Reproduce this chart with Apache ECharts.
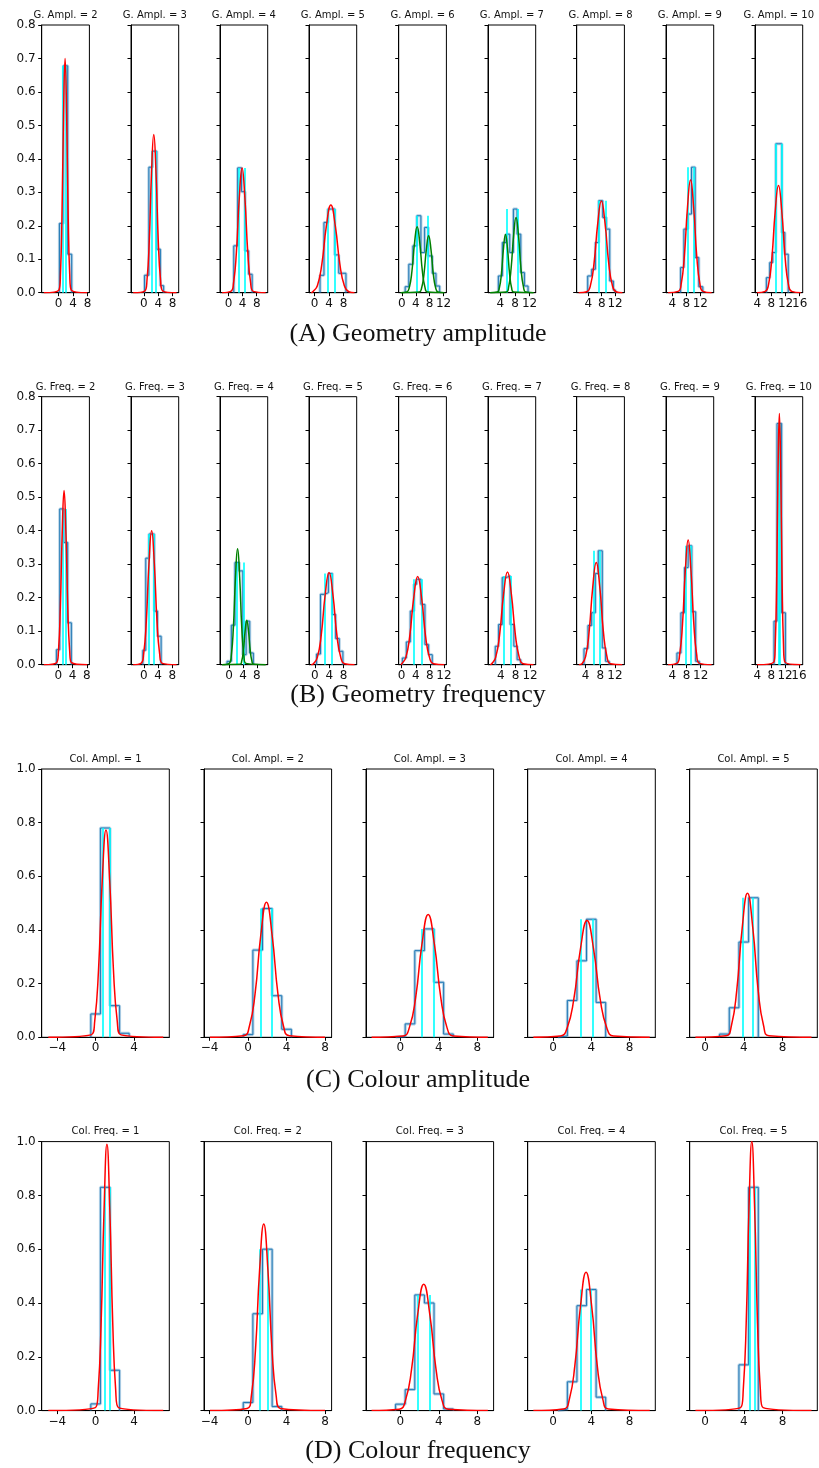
<!DOCTYPE html>
<html>
<head>
<meta charset="utf-8">
<script src="https://cdn.jsdelivr.net/npm/echarts@6/dist/echarts.min.js"></script>
<style>
  html, body { margin: 0; padding: 0; background: #fff; }
  #main { width: 819px; height: 1468px; }
</style>
</head>
<body>
<div id="main"></div>
<script>
// ---------- data ----------
const captions = ["(A) Geometry amplitude", "(B) Geometry frequency", "(C) Colour amplitude", "(D) Colour frequency"];

const titlesA = ["G. Ampl. = 2", "G. Ampl. = 3", "G. Ampl. = 4", "G. Ampl. = 5", "G. Ampl. = 6", "G. Ampl. = 7", "G. Ampl. = 8", "G. Ampl. = 9", "G. Ampl. = 10"];
const titlesB = ["G. Freq. = 2", "G. Freq. = 3", "G. Freq. = 4", "G. Freq. = 5", "G. Freq. = 6", "G. Freq. = 7", "G. Freq. = 8", "G. Freq. = 9", "G. Freq. = 10"];
const titlesC = ["Col. Ampl. = 1", "Col. Ampl. = 2", "Col. Ampl. = 3", "Col. Ampl. = 4", "Col. Ampl. = 5"];
const titlesD = ["Col. Freq. = 1", "Col. Freq. = 2", "Col. Freq. = 3", "Col. Freq. = 4", "Col. Freq. = 5"];

// x axis limits and tick labels
const xRangeA = [[-4.7, 8.5], [-3.6, 9.7], [-2.4, 11.1], [-1.5, 11.6], [-0.9, 12.8], [0.6, 13.7], [0.5, 14.8], [2.2, 15.8], [3.35, 16.85]];
const xRangeB = [[-4.7, 8.7], [-3.6, 9.8], [-2.6, 11.1], [-1.65, 11.65], [-0.85, 12.7], [0.45, 13.55], [1.55, 14.6], [2.2, 15.7], [3.3, 17.1]];
const xRangeC = [[-5.63, 7.69], [-4.58, 8.68], [-3.58, 9.7], [-2.64, 10.68], [-1.59, 11.6]];
const xRangeD = [[-5.63, 7.69], [-4.58, 8.68], [-3.58, 9.7], [-2.64, 10.68], [-1.59, 11.6]];

const xTicksA = [[0, 4, 8], [0, 4, 8], [0, 4, 8], [0, 4, 8], [0, 4, 8, 12], [4, 8, 12], [4, 8, 12], [4, 8, 12], [4, 8, 12, 16]];
const xTicksB = [[0, 4, 8], [0, 4, 8], [0, 4, 8], [0, 4, 8], [0, 4, 8, 12], [4, 8, 12], [4, 8, 12], [4, 8, 12], [4, 8, 12, 16]];
const xTicksC = [[-4, 0, 4], [-4, 0, 4, 8], [0, 4, 8], [0, 4, 8], [0, 4, 8]];
const xTicksD = [[-4, 0, 4], [-4, 0, 4, 8], [0, 4, 8], [0, 4, 8], [0, 4, 8]];

// histogram bin edges and densities
const binEdgesA = [
  [0.2, 1.3, 2.5, 3.6],
  [0.18, 1.38, 2.39, 3.58, 4.59, 5.5],
  [1.5, 2.6, 3.7, 4.7, 5.7, 6.7],
  [1.53, 2.61, 3.69, 4.68, 5.59, 6.67, 7.66, 8.65],
  [0.96, 2.0, 3.17, 4.33, 5.48, 6.54, 7.6, 8.75, 9.8, 10.87],
  [3.45, 4.55, 5.56, 6.57, 7.58, 8.59, 9.6, 10.6, 11.6],
  [3.8, 5.0, 6.1, 7.1, 8.3, 9.4, 10.4, 11.5, 12.1],
  [6.36, 7.3, 8.43, 9.47, 10.5, 11.55, 12.7],
  [6.57, 7.52, 8.38, 9.24, 10.1, 10.95, 11.8, 12.76]
];
const densityA = [
  [0.207, 0.678, 0.115],
  [0.052, 0.375, 0.423, 0.13, 0.021],
  [0.14, 0.373, 0.302, 0.125, 0.055],
  [0.052, 0.21, 0.25, 0.25, 0.113, 0.058, 0.058],
  [0.018, 0.085, 0.14, 0.23, 0.12, 0.195, 0.11, 0.058, 0.02],
  [0.05, 0.15, 0.175, 0.12, 0.25, 0.175, 0.06, 0.02],
  [0.05, 0.07, 0.15, 0.275, 0.225, 0.19, 0.035, 0.008],
  [0.075, 0.19, 0.235, 0.375, 0.105, 0.018],
  [0.045, 0.09, 0.12, 0.445, 0.445, 0.18, 0.115]
];
const binEdgesB = [
  [-0.56, 0.37, 1.5, 2.6, 3.63],
  [-0.28, 0.55, 1.47, 2.94, 3.85, 4.86],
  [-0.57, 0.66, 1.7, 2.92, 3.96, 4.9, 5.94, 6.98],
  [0.46, 1.56, 2.66, 3.76, 4.86, 5.78, 6.79, 7.8],
  [0.19, 1.32, 2.45, 3.49, 4.25, 5.47, 6.6, 7.64, 8.68],
  [2.45, 3.36, 4.36, 5.45, 6.55, 7.55, 8.45, 9.45],
  [3.55, 4.64, 5.64, 6.64, 7.45, 8.55, 9.45, 10.45],
  [5.3, 6.42, 7.44, 8.47, 9.49, 10.6, 11.63],
  [8.8, 9.67, 11.0, 12.1]
];
const densityB = [
  [0.045, 0.465, 0.365, 0.125],
  [0.043, 0.318, 0.39, 0.16, 0.085],
  [0.01, 0.118, 0.305, 0.28, 0.03, 0.13, 0.035],
  [0.032, 0.21, 0.215, 0.272, 0.15, 0.078, 0.04],
  [0.02, 0.068, 0.16, 0.24, 0.255, 0.18, 0.06, 0.03],
  [0.055, 0.12, 0.26, 0.265, 0.12, 0.055, 0.015],
  [0.048, 0.117, 0.155, 0.272, 0.34, 0.05, 0.01],
  [0.035, 0.155, 0.29, 0.355, 0.158, 0.01],
  [0.13, 0.72, 0.155]
];
const binEdgesC = [
  [-0.5, 0.5, 1.5, 2.5, 3.5],
  [-0.5, 0.5, 1.5, 2.5, 3.5, 4.5],
  [-0.5, 0.5, 1.5, 2.5, 3.5, 4.5, 5.5],
  [0.5, 1.5, 2.5, 3.5, 4.5, 5.5],
  [1.5, 2.5, 3.5, 4.5, 5.5]
];
const densityC = [
  [0.087, 0.78, 0.118, 0.015],
  [0.01, 0.325, 0.48, 0.155, 0.03],
  [0.003, 0.05, 0.323, 0.404, 0.205, 0.012],
  [0.005, 0.137, 0.285, 0.44, 0.13],
  [0.012, 0.11, 0.355, 0.52]
];
const binEdgesD = [
  [-0.5, 0.5, 1.5, 2.5],
  [-0.5, 0.5, 1.5, 2.5, 3.5],
  [-0.5, 0.5, 1.5, 2.5, 3.5, 4.5, 5.5],
  [0.5, 1.5, 2.5, 3.5, 4.5, 5.5],
  [3.5, 4.5, 5.5]
];
const densityD = [
  [0.025, 0.83, 0.15],
  [0.03, 0.36, 0.6, 0.015],
  [0.024, 0.078, 0.43, 0.40, 0.062, 0.006],
  [0.005, 0.107, 0.39, 0.45, 0.05],
  [0.17, 0.83]
];

// cyan marker positions
const markersA = [[1.1, 2.0], [2.2, 3.4], [2.9, 4.7], [3.69, 5.59], [4.4, 7.3], [5.65, 8.77], [7.0, 9.1], [8.3, 10.0], [9.24, 10.9]];
const markersB = [[1.1, 2.14], [1.38, 2.84], [2.26, 4.25], [2.84, 4.77], [3.4, 5.66], [4.9, 6.8], [6.1, 7.8], [7.72, 9.3], [10.05, 10.6]];
const markersC = [[0.7, 1.46], [1.35, 2.47], [2.26, 3.44], [2.92, 4.14], [3.9, 4.9]];
const markersD = [[0.9, 1.43], [1.22, 2.0], [1.84, 3.06], [2.85, 3.93], [4.59, 5.1]];

// fitted curves: extent along the baseline, then points
const fitSpanA = [[-4.1, 7.9], [-3.0, 9.1], [-1.8, 10.5], [-0.9, 11.0], [-0.3, 12.2], [1.2, 13.1], [1.1, 14.2], [2.8, 15.2], [3.9, 16.3]];
const fitSpanB = [[-4.1, 8.1], [-3.0, 9.2], [-2.0, 10.5], [-1.05, 11.05], [-0.25, 12.1], [1.05, 12.95], [2.15, 14.0], [2.8, 15.1], [3.9, 16.5]];
const fitSpanC = [[-4.94, 7.06], [-3.96, 8.0], [-3.0, 9.1], [-2.05, 10.1], [-1.0, 11.0]];
const fitSpanD = [[-4.94, 7.06], [-3.96, 8.0], [-3.0, 9.1], [-2.05, 10.1], [-1.0, 11.0]];

const fitA = [
  [[[0.06, 0.008], [0.49, 0.056], [0.91, 0.227], [1.34, 0.528], [1.77, 0.70], [2.20, 0.528], [2.63, 0.227], [3.05, 0.056], [3.48, 0.008]]],
  [[[0.23, 0.005], [0.86, 0.038], [1.49, 0.154], [2.12, 0.357], [2.75, 0.473], [3.38, 0.357], [4.01, 0.154], [4.64, 0.038], [5.27, 0.005]]],
  [[[0.64, 0.004], [1.44, 0.030], [2.24, 0.121], [3.05, 0.282], [3.85, 0.373], [4.65, 0.282], [5.46, 0.121], [6.26, 0.030], [7.06, 0.004]]],
  [[[-0.45, 0.003], [0.79, 0.021], [2.02, 0.085], [3.26, 0.198], [4.5, 0.262], [5.74, 0.198], [6.98, 0.085], [8.21, 0.021], [9.45, 0.003]]],
  [
    [[1.4, 0.002], [2.15, 0.016], [2.9, 0.064], [3.65, 0.149], [4.4, 0.197], [5.15, 0.149], [5.9, 0.064], [6.65, 0.016], [7.4, 0.002]],
    [[5.0, 0.002], [5.68, 0.014], [6.35, 0.055], [7.03, 0.128], [7.7, 0.17], [8.38, 0.128], [9.05, 0.055], [9.73, 0.014], [10.4, 0.002]]
  ],
  [
    [[3.15, 0.002], [3.71, 0.014], [4.28, 0.056], [4.84, 0.131], [5.4, 0.174], [5.96, 0.131], [6.53, 0.056], [7.09, 0.014], [7.65, 0.002]],
    [[5.6, 0.002], [6.28, 0.018], [6.95, 0.073], [7.63, 0.170], [8.3, 0.225], [8.98, 0.170], [9.65, 0.073], [10.33, 0.018], [11.0, 0.002]]
  ],
  [[[3.52, 0.003], [4.62, 0.022], [5.71, 0.089], [6.81, 0.207], [7.9, 0.274], [9.0, 0.207], [10.09, 0.089], [11.19, 0.022], [12.28, 0.003]]],
  [[[5.66, 0.004], [6.55, 0.027], [7.43, 0.109], [8.32, 0.254], [9.2, 0.337], [10.09, 0.254], [10.97, 0.109], [11.86, 0.027], [12.74, 0.004]]],
  [[[6.25, 0.004], [7.19, 0.025], [8.13, 0.104], [9.06, 0.242], [10.0, 0.32], [10.94, 0.242], [11.88, 0.104], [12.81, 0.025], [13.75, 0.004]]]
];
const fitB = [
  [[[-0.52, 0.006], [0.01, 0.041], [0.53, 0.169], [1.06, 0.392], [1.58, 0.52], [2.11, 0.392], [2.63, 0.169], [3.16, 0.041], [3.68, 0.006]]],
  [[[-0.8, 0.004], [-0.05, 0.032], [0.7, 0.130], [1.45, 0.302], [2.2, 0.40], [2.95, 0.302], [3.7, 0.130], [4.45, 0.032], [5.2, 0.004]]],
  [
    [[0.05, 0.004], [0.65, 0.028], [1.25, 0.112], [1.85, 0.261], [2.45, 0.346], [3.05, 0.261], [3.65, 0.112], [4.25, 0.028], [4.85, 0.004]],
    [[3.15, 0.001], [3.64, 0.011], [4.13, 0.043], [4.61, 0.100], [5.1, 0.133], [5.59, 0.100], [6.08, 0.043], [6.56, 0.011], [7.05, 0.001]]
  ],
  [[[-0.41, 0.003], [0.68, 0.022], [1.77, 0.089], [2.85, 0.208], [3.94, 0.275], [5.03, 0.208], [6.12, 0.089], [7.2, 0.022], [8.29, 0.003]]],
  [[[0.03, 0.003], [1.16, 0.021], [2.28, 0.085], [3.41, 0.199], [4.53, 0.263], [5.66, 0.199], [6.78, 0.085], [7.91, 0.021], [9.03, 0.003]]],
  [[[1.48, 0.003], [2.56, 0.022], [3.64, 0.090], [4.72, 0.209], [5.8, 0.277], [6.88, 0.209], [7.96, 0.090], [9.04, 0.022], [10.12, 0.003]]],
  [[[3.0, 0.003], [3.98, 0.024], [4.95, 0.099], [5.93, 0.230], [6.9, 0.305], [7.88, 0.230], [8.85, 0.099], [9.83, 0.024], [10.8, 0.003]]],
  [[[5.26, 0.004], [6.06, 0.030], [6.87, 0.121], [7.67, 0.281], [8.47, 0.372], [9.27, 0.281], [10.08, 0.121], [10.88, 0.030], [11.68, 0.004]]],
  [[[8.76, 0.008], [9.16, 0.060], [9.56, 0.244], [9.95, 0.566], [10.35, 0.75], [10.75, 0.566], [11.15, 0.244], [11.54, 0.060], [11.94, 0.008]]]
];
const fitC = [
  [[[-0.48, 0.009], [-0.09, 0.062], [0.30, 0.251], [0.69, 0.583], [1.08, 0.773], [1.47, 0.583], [1.86, 0.251], [2.25, 0.062], [2.64, 0.009]]],
  [[[-0.46, 0.006], [0.13, 0.040], [0.73, 0.163], [1.32, 0.380], [1.91, 0.503], [2.50, 0.380], [3.10, 0.163], [3.69, 0.040], [4.28, 0.006]]],
  [[[0.28, 0.005], [0.93, 0.036], [1.59, 0.149], [2.24, 0.346], [2.89, 0.458], [3.54, 0.346], [4.20, 0.149], [4.85, 0.036], [5.50, 0.005]]],
  [[[0.79, 0.005], [1.48, 0.035], [2.17, 0.141], [2.86, 0.328], [3.55, 0.435], [4.24, 0.328], [4.93, 0.141], [5.62, 0.035], [6.31, 0.005]]],
  [[[2.16, 0.006], [2.72, 0.043], [3.27, 0.174], [3.83, 0.405], [4.38, 0.537], [4.94, 0.405], [5.49, 0.174], [6.05, 0.043], [6.60, 0.006]]]
];
const fitD = [
  [[[-0.03, 0.011], [0.27, 0.079], [0.57, 0.321], [0.88, 0.747], [1.18, 0.99], [1.48, 0.747], [1.79, 0.321], [2.09, 0.079], [2.39, 0.011]]],
  [[[-0.10, 0.008], [0.34, 0.055], [0.77, 0.225], [1.20, 0.524], [1.63, 0.694], [2.06, 0.524], [2.49, 0.225], [2.92, 0.055], [3.36, 0.008]]],
  [[[-0.12, 0.005], [0.52, 0.037], [1.16, 0.153], [1.79, 0.355], [2.43, 0.47], [3.07, 0.355], [3.71, 0.153], [4.34, 0.037], [4.98, 0.005]]],
  [[[1.11, 0.006], [1.70, 0.041], [2.28, 0.167], [2.87, 0.388], [3.45, 0.514], [4.04, 0.388], [4.62, 0.167], [5.21, 0.041], [5.79, 0.006]]],
  [[[3.66, 0.011], [3.95, 0.080], [4.25, 0.325], [4.54, 0.755], [4.83, 1.0], [5.12, 0.755], [5.42, 0.325], [5.71, 0.080], [6.0, 0.011]]]
];

// ---------- layout ----------
const narrowLefts = [41.7, 131, 220, 309, 398.7, 488, 576.7, 666, 755];
const wideLefts = [41.7, 204, 366, 527.7, 689.7];

const rows = [
  { titles: titlesA, xRange: xRangeA, xTicks: xTicksA, edges: binEdgesA, dens: densityA, marks: markersA, span: fitSpanA, fits: fitA,
    top: 25, height: 267.7, lefts: narrowLefts, width: 47.7, yMax: 0.8, yStep: 0.1, titleY: 15, capY: 334 },
  { titles: titlesB, xRange: xRangeB, xTicks: xTicksB, edges: binEdgesB, dens: densityB, marks: markersB, span: fitSpanB, fits: fitB,
    top: 396.7, height: 268, lefts: narrowLefts, width: 47.7, yMax: 0.8, yStep: 0.1, titleY: 387.3, capY: 695 },
  { titles: titlesC, xRange: xRangeC, xTicks: xTicksC, edges: binEdgesC, dens: densityC, marks: markersC, span: fitSpanC, fits: fitC,
    top: 769, height: 268.3, lefts: wideLefts, width: 127.6, yMax: 1.0, yStep: 0.2, titleY: 759, capY: 1080 },
  { titles: titlesD, xRange: xRangeD, xTicks: xTicksD, edges: binEdgesD, dens: densityD, marks: markersD, span: fitSpanD, fits: fitD,
    top: 1141.6, height: 269, lefts: wideLefts, width: 127.6, yMax: 1.0, yStep: 0.2, titleY: 1131.7, capY: 1451 }
];

const FONT = "DejaVu Sans";
const grids = [], xAxes = [], yAxes = [], series = [], graphics = [];

function stepPath(edges, dens) {
  const pts = [[edges[0], 0]];
  for (let i = 0; i < dens.length; i++) {
    pts.push([edges[i], dens[i]]);
    pts.push([edges[i + 1], dens[i]]);
  }
  pts.push([edges[edges.length - 1], 0]);
  return pts;
}

// tick labels are split over two coincident bottom axes (alternating),
// so that touching labels such as "12" and "16" are both kept, as in the figure
function xAxisFor(k, range, ticks, withLine) {
  return {
    type: "value", gridIndex: k, position: "bottom", offset: 0, min: range[0], max: range[1],
    axisLine: { show: withLine, onZero: false, lineStyle: { color: "#000", width: 1 } },
    axisTick: { show: true, length: 3.5, customValues: ticks, lineStyle: { color: "#000" } },
    axisLabel: { show: true, customValues: ticks, margin: 5, color: "#111", fontSize: 12, fontFamily: FONT,
                 hideOverlap: false, formatter: v => String(v).replace("-", "\u2212") },
    splitLine: { show: false }
  };
}

rows.forEach((row, r) => {
  graphics.push({
    type: "text", x: 418, y: row.capY,
    style: { text: captions[r], font: "26px 'Liberation Serif', 'DejaVu Serif', serif", fill: "#111",
             textAlign: "center", textVerticalAlign: "middle" }
  });
  row.titles.forEach((t, i) => {
    const k = grids.length;
    const left = row.lefts[i];
    grids.push({
      left: left, top: row.top, width: row.width, height: row.height,
      show: true, borderColor: "#000", borderWidth: 1, containLabel: false, outerBoundsMode: "none"
    });
    graphics.push({
      type: "text", x: left + row.width / 2, y: row.titleY,
      style: { text: t, font: "10px '" + FONT + "'", fill: "#111", textAlign: "center", textVerticalAlign: "middle" }
    });
    const ticks = row.xTicks[i];
    const xi = xAxes.length;
    xAxes.push(xAxisFor(k, row.xRange[i], ticks.filter((_, j) => j % 2 === 0), true));
    xAxes.push(xAxisFor(k, row.xRange[i], ticks.filter((_, j) => j % 2 === 1), false));
    yAxes.push({
      type: "value", gridIndex: k, min: 0, max: row.yMax, interval: row.yStep,
      axisLine: { show: true, onZero: false, lineStyle: { color: "#000", width: 1 } },
      axisTick: { show: true, length: 3.5, lineStyle: { color: "#000" } },
      axisLabel: { show: i === 0, margin: 6, color: "#111", fontSize: 12, fontFamily: FONT,
                   formatter: v => v.toFixed(1) },
      splitLine: { show: false }
    });

    const hist = stepPath(row.edges[i], row.dens[i]);
    const top = Math.max.apply(null, row.dens[i]);
    series.push({
      type: "line", xAxisIndex: xi, yAxisIndex: k, data: hist, showSymbol: false, symbol: "none",
      lineStyle: { color: "rgba(31,119,180,0.35)", width: 3 }, silent: true, z: 2
    });
    series.push({
      type: "line", xAxisIndex: xi, yAxisIndex: k, data: hist, showSymbol: false, symbol: "none",
      lineStyle: { color: "#1f77b4", width: 1 }, silent: true, z: 3,
      markLine: {
        silent: true, symbol: "none", label: { show: false }, animation: false,
        lineStyle: { color: "#00ffff", width: 1.6, type: "solid" },
        data: row.marks[i].map(x => [{ coord: [x, 0] }, { coord: [x, top] }])
      }
    });
    const fits = row.fits[i];
    const colour = fits.length > 1 ? "#008000" : "#ff0000";
    fits.forEach(pts => {
      series.push({
        type: "line", xAxisIndex: xi, yAxisIndex: k, smooth: 0.5, showSymbol: false, symbol: "none",
        data: [[row.span[i][0], 0]].concat(pts, [[row.span[i][1], 0]]),
        lineStyle: { color: colour, width: 1.5 }, silent: true, z: 5
      });
    });
  });
});

const chart = echarts.init(document.getElementById("main"), null, { renderer: "canvas" });
chart.setOption({
  animation: false,
  backgroundColor: "#fff",
  grid: grids,
  xAxis: xAxes,
  yAxis: yAxes,
  series: series,
  graphic: graphics
});
</script>
</body>
</html>
